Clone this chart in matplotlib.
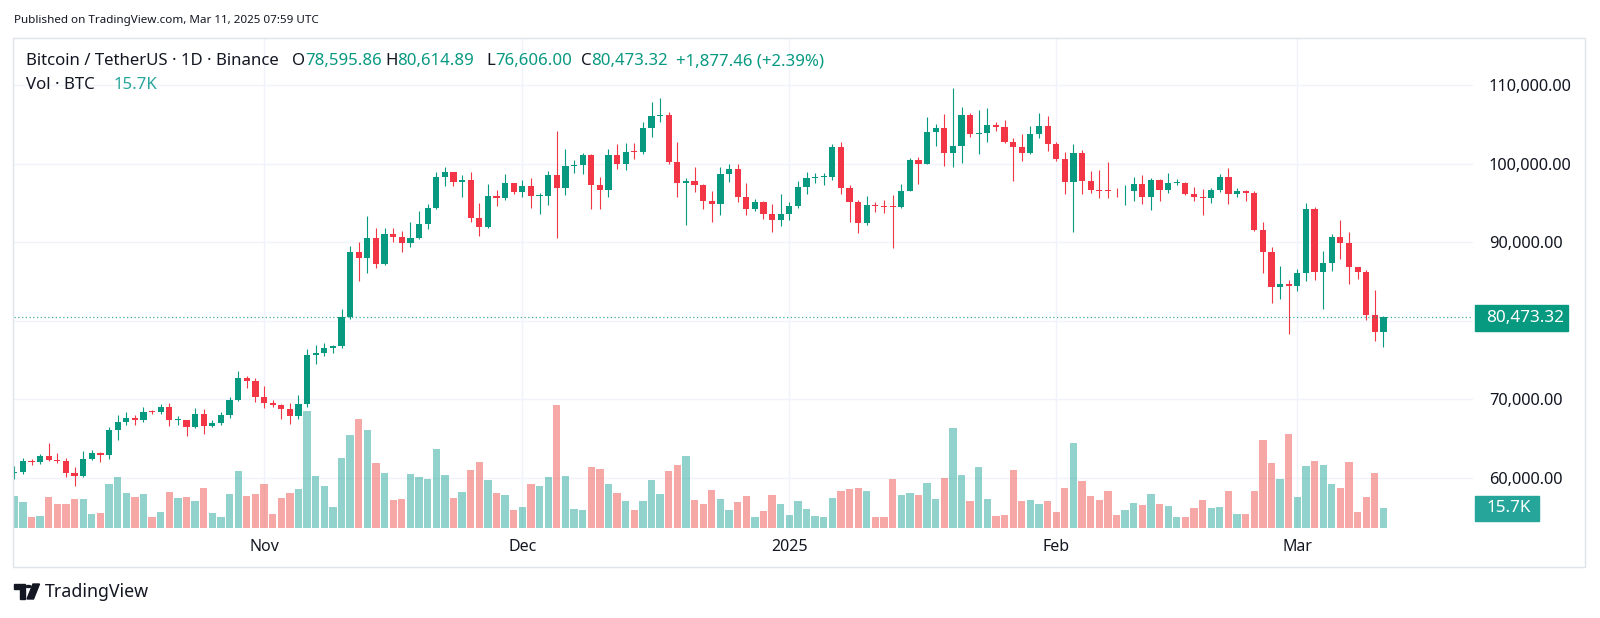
import numpy as np
import pandas as pd
import matplotlib
matplotlib.use("Agg")
import matplotlib.pyplot as plt
from matplotlib.patches import Rectangle, Circle, Polygon

W, H = 1600, 618

# daily BTC/USDT candles, Oct 3 2024 .. Mar 11 2025
dates = pd.date_range("2024-10-03", "2025-03-11", freq="D")

opens = [60649, 60752, 62086, 62058, 62819, 62224, 62131, 60583, 60274, 62445,
         63193, 62851, 66046, 67041, 67612, 67399, 68418, 68362, 69001, 67367,
         67390, 66433, 68161, 66642, 67014, 67929, 69907, 72720, 72339, 70215,
         69482, 69289, 68741, 67811, 69359, 75639, 75904, 76545, 76778, 80474,
         88701, 87955, 90485, 87251, 91032, 90587, 89855, 90465, 92310, 94286,
         98317, 98892, 97672, 97900, 93010, 91966, 95863, 95644, 97461, 96407,
         97185, 95840, 95849, 98587, 96945, 99740, 99831, 101109, 97276, 96593,
         101125, 100001, 101424, 101420, 104463, 106058, 106133, 100204, 97461, 97805,
         97291, 95187, 94900, 98717, 99310, 95756, 94256, 95099, 93568, 92776,
         93577, 94592, 96985, 98174, 98237, 98315, 102078, 96923, 95043, 92484,
         94701, 94566, 94540, 94480, 96534, 100505, 99987, 104078, 104556, 101331,
         102260, 106143, 103706, 103910, 104870, 104714, 102682, 102087, 101332, 103733,
         104722, 102429, 100635, 97700, 101328, 97763, 96612, 96554, 96506, 96444,
         96462, 97430, 95778, 97869, 96608, 97500, 97569, 96118, 95780, 95671,
         96644, 98305, 96181, 96551, 96258, 91552, 88680, 84250, 84708, 84349,
         86064, 94270, 86220, 87281, 90606, 89931, 86802, 86154, 80734, 78595.86]

highs = [61469, 62484, 62370, 62975, 64478, 63200, 62543, 61321, 63417, 63480,
         63285, 66500, 67950, 68424, 67939, 69000, 68667, 69400, 69500, 67836,
         67400, 68850, 68800, 67400, 68330, 70270, 73620, 72961, 72700, 71632,
         69880, 69432, 69500, 70577, 76400, 76900, 77199, 76900, 81500, 89530,
         89956, 93265, 91790, 91850, 91779, 91449, 92594, 94002, 94902, 98984,
         99588, 98892, 98564, 98935, 94973, 97360, 96650, 98693, 97463, 97888,
         98150, 96305, 99000, 104088, 101898, 100439, 101350, 101215, 98270, 101895,
         102540, 102650, 102650, 105250, 107780, 108353, 106524, 102800, 98150, 99540,
         97448, 96538, 99504, 99963, 99963, 97544, 95525, 95174, 94903, 96150,
         95150, 97839, 98976, 98734, 98813, 102482, 102724, 97259, 95382, 95837,
         95050, 95378, 95940, 97371, 100681, 100781, 105865, 104988, 106314, 109588,
         107240, 106394, 106850, 107120, 105286, 105500, 103260, 103800, 104782, 106457,
         106012, 102783, 101456, 102500, 101700, 99000, 99120, 100137, 96880, 97323,
         98345, 98478, 98119, 98000, 98826, 97972, 97704, 97046, 96753, 96899,
         98711, 99475, 96943, 96670, 96500, 92540, 89414, 87000, 85120, 86558,
         95000, 94416, 88911, 90998, 92810, 91283, 86847, 86471, 83955, 80614.89]

lows = [59828, 60459, 61676, 61800, 62128, 61860, 60044, 58895, 60044, 62224,
        62050, 62422, 64800, 66750, 66666, 67118, 68100, 68100, 66571, 66745,
        65260, 66377, 65522, 66430, 66720, 67600, 69729, 71436, 69685, 68820,
        69050, 67500, 66835, 67458, 69050, 74505, 75556, 75835, 76492, 80216,
        85072, 86127, 86668, 87073, 90056, 88722, 89376, 90406, 91619, 94266,
        97122, 97175, 95734, 92600, 90791, 91800, 94620, 95400, 96150, 95770,
        94395, 93578, 94660, 90500, 95981, 98844, 98657, 94150, 94256, 95700,
        99311, 99205, 100609, 101237, 103333, 105321, 100000, 95700, 92175, 96398,
        94250, 92520, 93400, 97600, 95137, 93500, 94014, 92881, 91317, 92000,
        92825, 94392, 96100, 97562, 97278, 97926, 96181, 92500, 91203, 92206,
        93831, 93712, 89256, 94300, 96500, 97366, 99950, 102277, 99651, 99550,
        100103, 103339, 101262, 102750, 104106, 102560, 97777, 100272, 101256, 103278,
        101560, 100279, 96150, 91231, 96150, 96208, 95676, 95620, 95688, 94746,
        95256, 94876, 94088, 95217, 96252, 97223, 96046, 95205, 93388, 95029,
        96415, 94871, 95770, 95232, 91371, 86050, 82256, 82786, 78258, 83824,
        85050, 85117, 81529, 86379, 87852, 84667, 85247, 80052, 77459, 76606.00]

closes = [60752, 62086, 62058, 62819, 62224, 62131, 60583, 60274, 62445, 63193,
          62851, 66046, 67041, 67612, 67399, 68418, 68362, 69001, 67367, 67390,
          66433, 68161, 66642, 67014, 67929, 69907, 72720, 72339, 70215, 69482,
          69289, 68741, 67811, 69359, 75639, 75904, 76545, 76778, 80474, 88701,
          87955, 90485, 87251, 91032, 90587, 89855, 90465, 92310, 94286, 98317,
          98892, 97672, 97900, 93010, 91966, 95863, 95644, 97461, 96407, 97185,
          95840, 95849, 98587, 96945, 99740, 99831, 101109, 97276, 96593, 101125,
          100001, 101424, 101420, 104463, 106058, 106133, 100204, 97461, 97805, 97291,
          95187, 94900, 98717, 99310, 95756, 94256, 95099, 93568, 92776, 93577,
          94592, 96985, 98174, 98237, 98315, 102078, 96923, 95043, 92484, 94701,
          94566, 94488, 94480, 96534, 100505, 99987, 104078, 104556, 101331, 102260,
          106143, 103706, 103910, 104870, 104714, 102682, 102087, 101332, 103733, 104722,
          102429, 100635, 97700, 101328, 97763, 96612, 96554, 96506, 96444, 96462,
          97430, 95778, 97869, 96608, 97500, 97569, 96118, 95780, 95671, 96644,
          98305, 96181, 96551, 96258, 91552, 88680, 84250, 84708, 84349, 86064,
          94270, 86220, 87281, 90606, 89931, 86802, 86154, 80734, 78595.86, 80473.32]

# volume in thousand BTC
volumes = [25.1, 20.1, 8.4, 9.7, 24.1, 18.8, 18.8, 22.8, 22.8, 11.0,
           12.0, 34.5, 39.8, 27.7, 24.1, 26.4, 8.9, 12.6, 28.5, 23.6,
           24.1, 21.2, 31.4, 12.0, 8.9, 26.9, 45.0, 24.9, 26.9, 34.5,
           11.2, 23.6, 27.7, 30.6, 91.6, 40.6, 33.0, 16.5, 55.0, 73.0,
           85.6, 76.7, 51.0, 42.9, 22.0, 22.8, 42.1, 39.8, 38.5, 61.8,
           41.4, 23.6, 28.5, 45.8, 51.8, 37.7, 27.2, 25.6, 14.4, 16.5,
           34.5, 33.0, 39.8, 96.3, 40.6, 15.2, 14.4, 47.9, 46.6, 34.5,
           27.2, 21.2, 14.4, 21.2, 37.7, 26.9, 45.0, 49.5, 56.3, 22.0,
           18.8, 30.1, 22.8, 14.4, 20.4, 24.9, 8.9, 13.3, 25.6, 18.8,
           10.5, 21.2, 15.2, 9.7, 8.9, 23.6, 29.3, 30.9, 31.4, 29.3,
           8.4, 8.9, 38.5, 25.6, 27.7, 25.6, 35.3, 22.8, 39.3, 78.8,
           41.4, 21.2, 47.9, 22.8, 9.7, 10.5, 45.8, 21.2, 22.0, 18.8,
           21.2, 12.8, 31.4, 66.7, 36.9, 24.9, 22.0, 29.3, 10.5, 14.4,
           19.6, 18.1, 26.9, 18.8, 17.3, 8.4, 8.9, 16.0, 22.0, 16.0,
           16.5, 29.3, 11.2, 11.2, 29.3, 69.1, 51.0, 38.5, 73.8, 24.1,
           48.7, 52.6, 49.5, 34.5, 31.4, 51.8, 12.8, 24.1, 42.9, 15.7]

price_ticks = [60000, 70000, 80000, 90000, 100000, 110000]
month_starts = ["2024-11-01", "2024-12-01", "2025-01-01", "2025-02-01", "2025-03-01"]
month_labels = ["Nov", "Dec", "2025", "Feb", "Mar"]

GREEN = "#089981"
RED = "#F23645"
VOL_GREEN = "#26a69a"
VOL_RED = "#ef5350"
TEXT = "#131722"
GRID = "#f0f3fa"


def fx(x):
    return x / W


def fy(y):
    return 1 - y / H


plt.rcParams["font.family"] = ["Noto Sans", "DejaVu Sans"]

fig = plt.figure(figsize=(W / 100, H / 100), dpi=100)
fig.patch.set_facecolor("white")

# pane in pixels: x 14..1473, y 39..528
rect = [fx(14), fy(528), (1473 - 14) / W, (528 - 39) / H]
ax_vol = fig.add_axes(rect)
ax = fig.add_axes(rect, sharex=ax_vol)
ax.patch.set_alpha(0)

idx = np.arange(len(dates))
o = np.array(opens, dtype=float)
h = np.array(highs, dtype=float)
l = np.array(lows, dtype=float)
c = np.array(closes, dtype=float)
up = c >= o

# volume
vol_top = 489 * 0.785
ax_vol.bar(idx, volumes, width=0.85, color=np.where(up, VOL_GREEN, VOL_RED), alpha=0.5, linewidth=0)
ax_vol.set_ylim(0, vol_top)

# grid on the volume layer so it stays behind everything
ax_vol.set_xlim(-0.035, 169.4)
ylo, yhi = 53597, 115857
for p in price_ticks:
    ax_vol.axhline((p - ylo) / (yhi - ylo) * vol_top, color=GRID, lw=1, zorder=0)
month_idx = [int(np.where(dates == pd.Timestamp(m))[0][0]) for m in month_starts]
for m in month_idx:
    ax_vol.axvline(m, color=GRID, lw=1, zorder=0)

# candles
colors = np.where(up, GREEN, RED)
ax.vlines(idx, l, h, colors=colors, linewidth=0.8)
body = np.maximum(np.abs(c - o), 120)
ax.bar(idx, body, bottom=np.minimum(o, c), width=0.72, color=colors, linewidth=0)
ax.set_ylim(ylo, yhi)

# last price line
ax.axhline(c[-1], color=GREEN, lw=0.9, ls=(0, (1, 2)), alpha=0.8)

for a in (ax, ax_vol):
    for s in a.spines.values():
        s.set_visible(False)
ax_vol.set_yticks([])
ax_vol.tick_params(axis="x", length=0, labelbottom=False)

ax.yaxis.tick_right()
ax.set_yticks(price_ticks)
ax.set_yticklabels(["" if p == 80000 else f"{p:,.2f}" for p in price_ticks])
ax.tick_params(axis="y", length=0, pad=11.4, labelsize=11.8, labelcolor=TEXT)

ax.set_xticks(month_idx)
ax.set_xticklabels(month_labels)
ax.tick_params(axis="x", length=0, pad=8, labelsize=11.5, labelcolor=TEXT)
ax.get_xticklabels()[2].set_fontweight("bold")

# price / volume labels on the scale
fig.patches.append(Rectangle((fx(1475), fy(330.7)), (1568 - 1475) / W, 25.7 / H,
                             transform=fig.transFigure, color=GREEN, zorder=5))
fig.text(fx(1486), fy(317.8), f"{c[-1]:,.2f}", color="white", fontsize=12.3,
         va="center", ha="left", zorder=6)
fig.patches.append(Rectangle((fx(1475), fy(520.7)), (1539 - 1475) / W, 25 / H,
                             transform=fig.transFigure, color=VOL_GREEN, zorder=5))
fig.text(fx(1486), fy(508.2), f"{volumes[-1]:.1f}K", color="white", fontsize=12.3,
         va="center", ha="left", zorder=6)

# chart frame
fig.patches.append(Rectangle((fx(13), fy(567)), (1585 - 13) / W, (567 - 38) / H,
                             transform=fig.transFigure, fill=False, edgecolor="#e0e3eb", lw=1))

# header
fig.text(fx(14), fy(20), "Published on TradingView.com, Mar 11, 2025 07:59 UTC",
         fontsize=8.4, color=TEXT, va="center")

hdr = 12.1
fig.text(fx(25.5), fy(61), "Bitcoin / TetherUS · 1D · Binance", fontsize=hdr, color=TEXT, va="center")
change = c[-1] - c[-2]
pieces = [("O", f"{o[-1]:,.2f}", 291.8), ("H", f"{h[-1]:,.2f}", 385),
          ("L", f"{l[-1]:,.2f}", 486), ("C", f"{c[-1]:,.2f}", 580.6)]
for letter, val, x in pieces:
    t = fig.text(fx(x), fy(61), letter, fontsize=hdr, color=TEXT, va="center")
    ax.annotate(val, xy=(1, 0.5), xycoords=t, va="center", ha="left",
                fontsize=hdr, color=GREEN, annotation_clip=False)
fig.text(fx(676.5), fy(61), f"+{change:,.2f} (+{change / c[-2] * 100:.2f}%)",
         fontsize=hdr, color=GREEN, va="center")
fig.text(fx(25.5), fy(85), "Vol · BTC", fontsize=hdr, color=TEXT, va="center")
fig.text(fx(113.5), fy(85), f"{volumes[-1]:.1f}K", fontsize=hdr, color=VOL_GREEN, va="center")

# TradingView logo + wordmark
fig.patches.append(Polygon([(fx(14), fy(584)), (fx(25), fy(584)), (fx(25), fy(599)),
                            (fx(20), fy(599)), (fx(20), fy(589)), (fx(14), fy(589))],
                           closed=True, transform=fig.transFigure, color=TEXT))
fig.patches.append(Circle((fx(28.5), fy(586.5)), 2.6 / W, transform=fig.transFigure, color=TEXT))
fig.patches.append(Polygon([(fx(33), fy(584)), (fx(39.5), fy(584)), (fx(33.5), fy(599)), (fx(27), fy(599))],
                           closed=True, transform=fig.transFigure, color=TEXT))
fig.text(fx(45), fy(592), "TradingView", fontsize=12.8, color=TEXT, va="center")

fig.savefig("out.png", dpi=100, facecolor="white")
